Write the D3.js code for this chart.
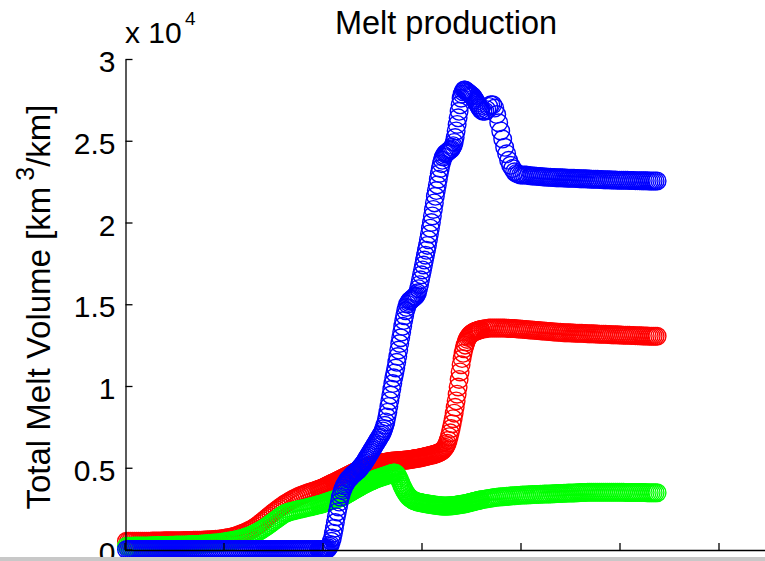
<!DOCTYPE html>
<html>
<head>
<meta charset="utf-8">
<script src="https://cdn.jsdelivr.net/npm/d3@7"></script>
<style>
  html, body { margin: 0; padding: 0; background: #ffffff; }
  svg { display: block; }
  text { font-family: "Liberation Sans", Arial, Helvetica, sans-serif; fill: #000; }
</style>
</head>
<body>
<svg id="chart" width="765" height="561"></svg>
<script>
// ---- time sampling: [first, last, step] (finer output steps during the fast rise) ----
const timeSections = [[0.2, 19.6, 0.2], [19.7, 36.0, 0.1], [36.2, 53.8, 0.2]];
const xTickValues = [0, 10, 20, 30, 40, 50, 60];
const yTickValues = [0, 0.5, 1, 1.5, 2, 2.5, 3];
const yTickLabels = ["0", "0.5", "1", "1.5", "2", "2.5", "3"];
const titleText = "Melt production";
const yLabelMain = "Total Melt Volume [km";
const yLabelSup = "3";
const yLabelEnd = "/km]";
const exponentBase = "x 10";
const exponentPower = "4";

// values in units of 10^4 km^3/km, one per sample time
const redSeries = [
  0.050,0.050,0.050,0.050,0.050,0.050,0.050,0.050,0.051,0.051,
  0.051,0.051,0.051,0.052,0.052,0.052,0.052,0.052,0.052,0.053,
  0.053,0.053,0.053,0.053,0.054,0.054,0.054,0.054,0.054,0.055,
  0.055,0.055,0.055,0.055,0.056,0.056,0.056,0.057,0.057,0.058,
  0.058,0.059,0.059,0.060,0.061,0.062,0.063,0.064,0.066,0.068,
  0.070,0.072,0.074,0.077,0.080,0.083,0.087,0.091,0.096,0.101,
  0.106,0.111,0.117,0.123,0.130,0.138,0.146,0.155,0.165,0.175,
  0.185,0.195,0.205,0.215,0.225,0.234,0.243,0.252,0.261,0.270,
  0.278,0.286,0.293,0.300,0.307,0.313,0.319,0.325,0.330,0.335,
  0.340,0.344,0.348,0.352,0.356,0.360,0.364,0.368,
  // fine section
  0.370,0.372,0.374,0.376,0.379,0.382,0.385,0.388,0.391,0.394,
  0.397,0.400,0.403,0.406,0.409,0.412,0.415,0.418,0.421,0.424,
  0.427,0.430,0.433,0.436,0.439,0.442,0.445,0.448,0.451,0.454,
  0.457,0.460,0.463,0.466,0.469,0.472,0.475,0.478,0.481,0.484,
  0.487,0.490,0.493,0.496,0.498,0.500,0.502,0.504,0.506,0.508,
  0.510,0.512,0.514,0.516,0.518,0.519,0.521,0.522,0.524,0.525,
  0.527,0.528,0.529,0.530,0.531,0.532,0.533,0.534,0.535,0.536,
  0.537,0.538,0.539,0.540,0.541,0.541,0.542,0.542,0.543,0.543,
  0.544,0.544,0.545,0.545,0.546,0.546,0.547,0.547,0.548,0.548,
  0.549,0.550,0.551,0.552,0.553,0.554,0.555,0.556,0.557,0.558,
  0.559,0.560,0.561,0.562,0.564,0.565,0.567,0.568,0.570,0.571,
  0.573,0.574,0.576,0.577,0.579,0.580,0.582,0.584,0.586,0.588,
  0.590,0.593,0.596,0.600,0.604,0.610,0.617,0.625,0.636,0.650,
  0.668,0.690,0.714,0.740,0.769,0.800,0.834,0.870,0.909,0.950,
  0.994,1.040,1.086,1.130,1.168,1.200,1.228,1.250,1.269,1.285,
  1.296,1.305,1.312,1.318,1.323,1.327,1.330,1.333,1.336,1.338,
  1.340,1.342,1.344,1.345,
  // late section
  1.348,1.350,1.352,1.354,1.355,1.355,1.355,1.355,1.355,1.355,
  1.354,1.354,1.353,1.353,1.352,1.352,1.351,1.350,1.349,1.348,
  1.347,1.346,1.345,1.344,1.343,1.342,1.341,1.340,1.339,1.338,
  1.337,1.336,1.335,1.334,1.333,1.332,1.331,1.330,1.329,1.328,
  1.327,1.326,1.326,1.325,1.325,1.324,1.324,1.323,1.323,1.322,
  1.322,1.321,1.321,1.320,1.320,1.319,1.319,1.318,1.318,1.317,
  1.317,1.316,1.316,1.315,1.315,1.314,1.314,1.313,1.313,1.312,
  1.312,1.311,1.311,1.310,1.310,1.309,1.309,1.308,1.308,1.307,
  1.307,1.306,1.306,1.306,1.305,1.305,1.305,1.304,1.304
];

const greenSeries = [
  0.020,0.020,0.020,0.020,0.021,0.021,0.021,0.021,0.022,0.022,
  0.022,0.022,0.023,0.023,0.023,0.024,0.024,0.024,0.025,0.025,
  0.025,0.025,0.026,0.026,0.026,0.027,0.027,0.027,0.028,0.028,
  0.028,0.029,0.029,0.030,0.030,0.031,0.031,0.032,0.033,0.034,
  0.035,0.036,0.037,0.038,0.039,0.040,0.041,0.042,0.044,0.046,
  0.048,0.050,0.052,0.054,0.056,0.058,0.061,0.064,0.067,0.071,
  0.075,0.079,0.083,0.088,0.093,0.099,0.105,0.112,0.119,0.127,
  0.135,0.143,0.151,0.160,0.169,0.178,0.187,0.196,0.205,0.213,
  0.220,0.225,0.229,0.233,0.236,0.239,0.242,0.245,0.248,0.250,
  0.253,0.256,0.259,0.262,0.265,0.268,0.271,0.274,
  // fine section
  0.276,0.277,0.279,0.280,0.283,0.285,0.287,0.289,0.291,0.293,
  0.295,0.297,0.299,0.301,0.303,0.305,0.307,0.309,0.311,0.313,
  0.315,0.317,0.319,0.321,0.325,0.328,0.332,0.335,0.339,0.342,
  0.346,0.349,0.353,0.356,0.360,0.363,0.367,0.370,0.374,0.377,
  0.381,0.384,0.388,0.391,0.395,0.398,0.401,0.404,0.407,0.410,
  0.413,0.416,0.419,0.421,0.424,0.426,0.429,0.431,0.434,0.436,
  0.438,0.440,0.442,0.444,0.446,0.448,0.450,0.452,0.454,0.456,
  0.458,0.460,0.463,0.465,0.467,0.468,0.468,0.465,0.459,0.450,
  0.438,0.425,0.410,0.395,0.382,0.370,0.358,0.348,0.338,0.330,
  0.323,0.318,0.312,0.308,0.304,0.300,0.297,0.295,0.293,0.291,
  0.289,0.288,0.287,0.286,0.284,0.283,0.282,0.281,0.280,0.279,
  0.278,0.277,0.276,0.275,0.274,0.273,0.272,0.271,0.270,0.270,
  0.269,0.268,0.267,0.267,0.266,0.266,0.266,0.266,0.266,0.266,
  0.266,0.267,0.267,0.268,0.268,0.269,0.269,0.270,0.271,0.272,
  0.273,0.274,0.275,0.276,0.277,0.278,0.279,0.280,0.281,0.283,
  0.284,0.286,0.287,0.289,0.290,0.292,0.293,0.295,0.296,0.298,
  0.299,0.301,0.302,0.304,
  // late section
  0.306,0.308,0.310,0.312,0.314,0.316,0.318,0.320,0.321,0.322,
  0.323,0.324,0.325,0.326,0.327,0.328,0.329,0.330,0.331,0.332,
  0.333,0.334,0.334,0.335,0.335,0.336,0.336,0.337,0.337,0.338,
  0.338,0.339,0.339,0.340,0.340,0.341,0.341,0.342,0.342,0.343,
  0.343,0.344,0.344,0.345,0.345,0.346,0.346,0.347,0.347,0.348,
  0.348,0.349,0.349,0.350,0.350,0.350,0.350,0.350,0.350,0.350,
  0.350,0.350,0.350,0.350,0.350,0.350,0.350,0.350,0.350,0.350,
  0.350,0.350,0.349,0.349,0.349,0.349,0.349,0.348,0.348,0.348,
  0.348,0.348,0.348,0.347,0.347,0.347,0.347,0.347,0.347
];

const blueSeries = [
  0,0,0,0,0,0,0,0,0,0,
  0,0,0,0,0,0,0,0,0,0,
  0,0,0,0,0,0,0,0,0,0,
  0,0,0,0,0,0,0,0,0,0,
  0,0,0,0,0,0,0,0,0,0,
  0,0,0,0,0,0,0,0,0,0,
  0,0,0,0,0,0,0,0,0,0,
  0,0,0,0,0,0,0,0,0,0,
  0,0,0,0,0,0,0,0,0,0,
  0,0,0,0,0,0,0,0,
  // fine section
  0,0,0,0,0,0,0,0,0.003,0.01,
  0.02,0.03,0.05,0.07,0.10,0.13,0.165,0.20,0.23,0.26,
  0.29,0.32,0.34,0.36,0.375,0.39,0.40,0.41,0.42,0.43,
  0.435,0.44,0.448,0.455,0.46,0.465,0.47,0.475,0.48,0.485,
  0.492,0.50,0.507,0.515,0.522,0.53,0.54,0.55,0.56,0.57,
  0.58,0.59,0.60,0.61,0.62,0.63,0.64,0.65,0.66,0.67,
  0.68,0.69,0.70,0.71,0.725,0.74,0.76,0.78,0.81,0.84,
  0.875,0.91,0.945,0.98,1.015,1.05,1.08,1.11,1.145,1.18,
  1.22,1.26,1.295,1.33,1.365,1.40,1.43,1.46,1.48,1.50,
  1.51,1.52,1.525,1.53,1.535,1.54,1.545,1.55,1.56,1.57,
  1.595,1.62,1.65,1.68,1.71,1.74,1.77,1.80,1.83,1.86,
  1.895,1.93,1.965,2.00,2.04,2.08,2.12,2.16,2.195,2.23,
  2.265,2.30,2.33,2.36,2.38,2.40,2.41,2.42,2.425,2.43,
  2.435,2.44,2.445,2.45,2.46,2.47,2.49,2.52,2.56,2.60,
  2.64,2.68,2.72,2.76,2.785,2.80,2.81,2.81,2.805,2.80,
  2.795,2.79,2.785,2.78,2.775,2.77,2.76,2.75,2.74,2.73,
  2.72,2.71,2.70,2.69,
  // late section
  2.68,2.68,2.69,2.71,2.72,2.72,2.70,2.66,2.61,2.56,
  2.51,2.46,2.42,2.38,2.35,2.33,2.31,2.30,2.295,2.29,
  2.29,2.29,2.29,2.288,2.286,2.285,2.284,2.283,2.282,2.281,
  2.280,2.279,2.278,2.277,2.276,2.275,2.275,2.274,2.274,2.273,
  2.273,2.272,2.272,2.271,2.271,2.270,2.270,2.269,2.269,2.268,
  2.268,2.267,2.267,2.266,2.266,2.265,2.265,2.264,2.264,2.263,
  2.263,2.262,2.262,2.261,2.261,2.260,2.260,2.260,2.259,2.259,
  2.259,2.258,2.258,2.258,2.257,2.257,2.257,2.256,2.256,2.256,
  2.255,2.255,2.255,2.255,2.254,2.254,2.254,2.254,2.254
];

const seriesList = [
  { name: "red", values: redSeries, color: "#ff0000" },
  { name: "green", values: greenSeries, color: "#00ff00" },
  { name: "blue", values: blueSeries, color: "#0000ff" }
];

// sample times from the section table
const sampleTimes = [];
timeSections.forEach(([a, b, s]) => {
  const n = Math.round((b - a) / s) + 1;
  for (let j = 0; j < n; j++) sampleTimes.push(+(a + j * s).toFixed(3));
});

// ---- layout ----
const W = 765, H = 561;
const svg = d3.select("#chart");
svg.append("rect").attr("x", 0).attr("y", 0).attr("width", W).attr("height", H).attr("fill", "#ffffff");

const x = d3.scaleLinear().domain([0, 65]).range([124.5, 124.5 + 65 * 9.9]);
const y = d3.scaleLinear().domain([0, 3]).range([549.5, 59]);

// markers (red first, blue last on top)
seriesList.forEach(s => {
  svg.append("g")
    .attr("fill", "none")
    .attr("stroke", s.color)
    .attr("stroke-width", 1.4)
    .selectAll("circle")
    .data(s.values.slice(0, sampleTimes.length))
    .join("circle")
    .attr("cx", (d, i) => x(sampleTimes[i]))
    .attr("cy", d => y(d))
    .attr("r", 8.8);
});

// x axis (its tick labels lie below the visible area)
const xAxis = svg.append("g")
  .attr("transform", "translate(0,550)")
  .call(d3.axisBottom(x).tickValues(xTickValues).tickSize(-7).tickSizeOuter(0).tickFormat(() => ""));
// y axis
const yAxis = svg.append("g")
  .attr("transform", "translate(125.5,0)")
  .call(d3.axisLeft(y).tickValues(yTickValues).tickSize(-7).tickSizeOuter(0).tickPadding(10)
        .tickFormat((d, i) => yTickLabels[i]));

[xAxis, yAxis].forEach(g => {
  g.select(".domain").attr("stroke", "#000").attr("stroke-width", 1.3);
  g.selectAll(".tick line").attr("stroke", "#000").attr("stroke-width", 1.3);
});
yAxis.selectAll(".tick text")
  .attr("font-size", 30)
  .attr("dy", "0.42em")
  .attr("fill", "#000")
  .style("font-family", '"Liberation Sans", Arial, sans-serif');

// exponent label
const expText = svg.append("text").attr("x", 125).attr("y", 43).attr("font-size", 30);
expText.append("tspan").text(exponentBase);
expText.append("tspan").attr("x", 185).attr("y", 25).attr("font-size", 19).text(exponentPower);

// title
svg.append("text")
  .attr("x", 446).attr("y", 34)
  .attr("text-anchor", "middle")
  .attr("font-size", 32.5)
  .text(titleText);

// y label
const yl = svg.append("text")
  .attr("transform", "translate(50,307) rotate(-90)")
  .attr("text-anchor", "middle")
  .attr("font-size", 33);
yl.append("tspan").text(yLabelMain);
yl.append("tspan").attr("dx", 6).attr("dy", -16).attr("font-size", 25).text(yLabelSup);
yl.append("tspan").attr("dy", 16).text(yLabelEnd);

// grey strip at the bottom of the figure
svg.append("rect").attr("x", 0).attr("y", 557).attr("width", W).attr("height", H - 557).attr("fill", "#c8c8c8");
</script>
</body>
</html>
